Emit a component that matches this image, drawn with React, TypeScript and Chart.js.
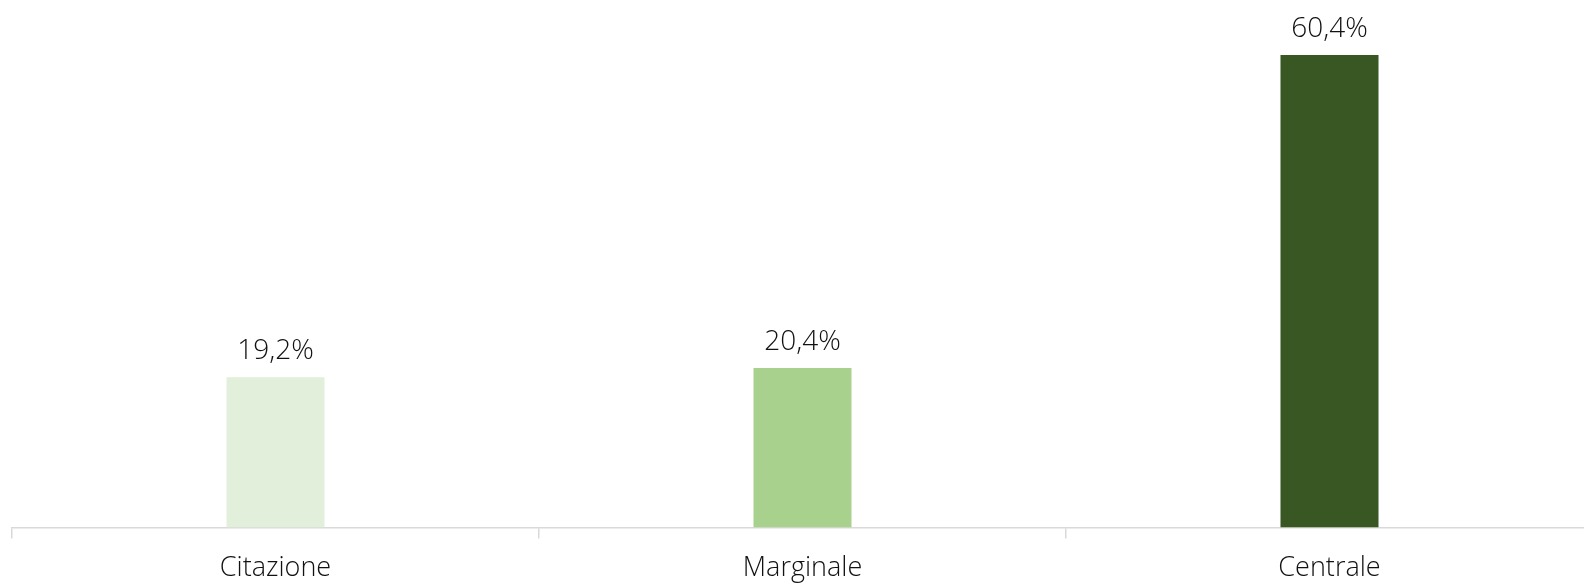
import React, { useEffect, useRef } from "react";
import { Chart, registerables } from "chart.js";

Chart.register(...registerables);

const categories = ["Citazione", "Marginale", "Centrale"];
const values = [19.2, 20.4, 60.4];
const valueLabels = ["19,2%", "20,4%", "60,4%"];
const barColors = ["#E2EFDA", "#A9D18E", "#385723"];

const FONT = "'Open Sans', 'Noto Sans', sans-serif";

const valueLabelPlugin = {
  id: "valueLabels",
  afterDatasetsDraw(chart: any) {
    const ctx = chart.ctx;
    const meta = chart.getDatasetMeta(0);
    ctx.save();
    ctx.font = `300 28px ${FONT}`;
    ctx.fillStyle = "#111111";
    ctx.textAlign = "center";
    ctx.textBaseline = "alphabetic";
    meta.data.forEach((bar: any, i: number) => {
      ctx.fillText(valueLabels[i], bar.x, bar.y - 18);
    });
    ctx.restore();
  },
};

export default function App() {
  const ref = useRef<HTMLCanvasElement | null>(null);
  useEffect(() => {
    if (!ref.current) return;
    const chart = new Chart(ref.current, {
      type: "bar",
      data: {
        labels: categories,
        datasets: [
          {
            data: values,
            backgroundColor: barColors,
            borderWidth: 0,
            categoryPercentage: 1,
            barPercentage: 0.186,
          },
        ],
      },
      options: {
        responsive: false,
        animation: false,
        layout: { padding: { top: 19, left: 12, right: 7, bottom: 0 } },
        plugins: { legend: { display: false }, tooltip: { enabled: false } },
        scales: {
          x: {
            offset: true,
            grid: {
              offset: true,
              drawOnChartArea: false,
              drawTicks: true,
              tickLength: 11,
              color: "#d9d9d9",
              lineWidth: 1.5,
            },
            border: { display: true, color: "#d9d9d9", width: 1.5 },
            ticks: {
              color: "#111111",
              font: { family: FONT, size: 27, weight: "300" as any },
              padding: 14,
              maxRotation: 0,
            },
            afterFit: (scale: any) => {
              scale.height = 56.5;
            },
          },
          y: {
            display: false,
            min: 0,
            max: 65,
          },
        },
      },
      plugins: [valueLabelPlugin],
    });
    return () => chart.destroy();
  }, []);
  return (
    <div
      style={{
        position: "fixed",
        left: 0,
        top: 0,
        width: 1584,
        height: 584,
        overflow: "hidden",
        background: "#fff",
      }}
    >
      <canvas ref={ref} width={1600} height={584} style={{ width: 1600, height: 584, display: "block" }} />
    </div>
  );
}
